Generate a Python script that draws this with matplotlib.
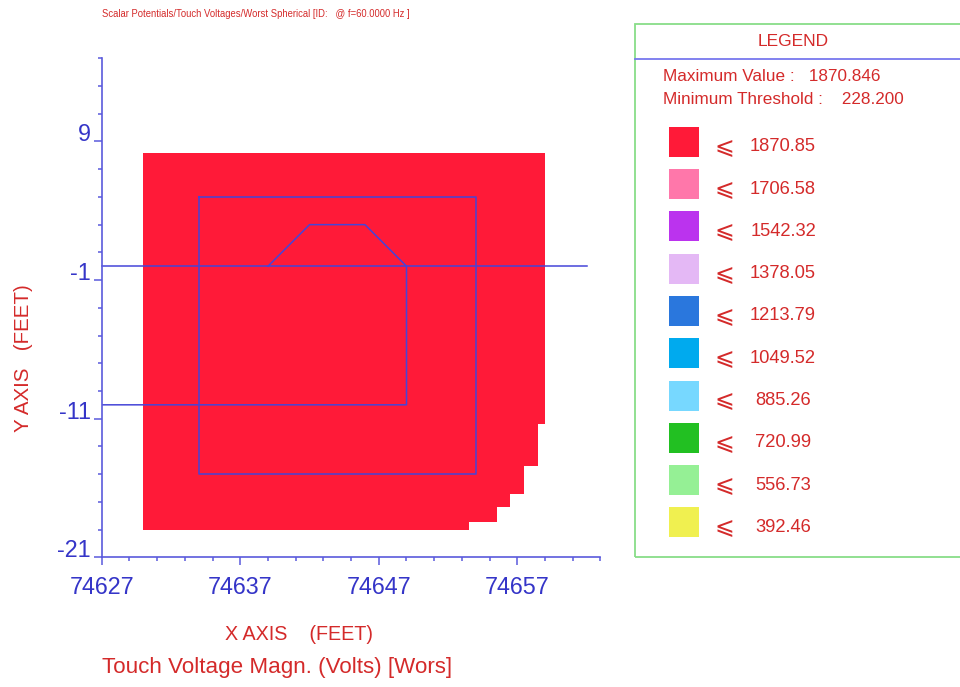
import matplotlib
matplotlib.use("Agg")
import matplotlib.pyplot as plt
from matplotlib.patches import Rectangle
from matplotlib.lines import Line2D

plt.rcParams['font.family'] = ['Liberation Sans', 'DejaVu Sans']

# ---- data ----
title_text = "Scalar Potentials/Touch Voltages/Worst Spherical [ID:   @ f=60.0000 Hz ]"
x_major = [74627, 74637, 74647, 74657]
y_major = [9, -1, -11, -21]
x_range = (74627, 74663)
y_range = (-21, 15)

field_x = [74630, 74659, 74659, 74658.5, 74658.5, 74657.5, 74657.5, 74656.5,
           74656.5, 74655.5, 74655.5, 74653.5, 74653.5, 74630]
field_y = [8.2, 8.2, -11.4, -11.4, -14.4, -14.4, -16.4, -16.4,
           -17.4, -17.4, -18.45, -18.45, -19, -19]

grid_x = [74634, 74654, 74654, 74634, 74634]
grid_y = [5, 5, -15, -15, 5]

bld_x = [74627, 74649, 74649, 74646, 74642, 74639]
bld_y = [-10, -10, 0, 3, 3, 0]

line_x = [74627, 74662]
line_y = [0, 0]

max_value = "1870.846"
min_threshold = "228.200"
levels = ["1870.85", "1706.58", "1542.32", "1378.05", "1213.79",
          "1049.52", "885.26", "720.99", "556.73", "392.46"]
level_colors = ["#ff1a38", "#ff77aa", "#bb33ee", "#e4b8f5", "#2a77dd",
                "#00aaee", "#77d8ff", "#22c022", "#95f095", "#f0f050"]

# ---- figure ----
W, H = 960, 687
fig = plt.figure(figsize=(W / 100, H / 100), dpi=100)

def fx(px):
    return px / W

def fy(py):
    return 1 - py / H

ax_l, ax_r, ax_t, ax_b = 101.8, 600.4, 58.3, 557.3
ax = fig.add_axes([fx(ax_l), fy(ax_b), (ax_r - ax_l) / W, (ax_b - ax_t) / H])
ax.set_xlim(*x_range)
ax.set_ylim(*y_range)

axis_blue = "#5a5adc"
text_blue = "#3535c8"
red_text = "#d42a2a"
line_blue = "#4545d8"

ax.fill(field_x, field_y, color=level_colors[0], lw=0, zorder=1)
ax.plot(grid_x, grid_y, color=line_blue, lw=1.1, zorder=2)
ax.plot(bld_x, bld_y, color=line_blue, lw=1.1, zorder=2)
ax.plot(line_x, line_y, color=line_blue, lw=1.1, zorder=2, clip_on=False)

for s in ['top', 'right']:
    ax.spines[s].set_visible(False)
for s in ['left', 'bottom']:
    ax.spines[s].set_color(axis_blue)
    ax.spines[s].set_linewidth(1.2)

ax.set_xticks(x_major)
ax.set_xticklabels([str(v) for v in x_major])
ax.set_xticks(list(range(x_range[0], x_range[1] + 1, 2)), minor=True)
ax.set_yticks(y_major)
ax.set_yticklabels([str(v) for v in y_major])
ax.set_yticks(list(range(y_range[0], y_range[1] + 1, 2)), minor=True)

ax.tick_params(axis='both', which='major', length=5.8, width=1.1, color=axis_blue,
               labelcolor=text_blue, labelsize=16.8)
ax.tick_params(axis='both', which='minor', length=3.2, width=1.1, color=axis_blue)
ax.tick_params(axis='x', which='major', pad=8)
ax.tick_params(axis='y', which='major', pad=2.3)
for lab in ax.get_yticklabels():
    lab.set_verticalalignment('baseline')

# ---- texts ----
fig.text(fx(101.7), fy(14), title_text, color=red_text, fontsize=6.85,
         ha='left', va='center')
fig.text(fx(299), fy(634), "X AXIS    (FEET)", color=red_text, fontsize=14.2,
         ha='center', va='center')
fig.text(fx(24), fy(358), "Y AXIS   (FEET)", color=red_text, fontsize=14.8,
         ha='center', va='center', rotation=90)
fig.text(fx(277.5), fy(668), "Touch Voltage Magn. (Volts) [Wors]", color=red_text,
         fontsize=16.1, ha='center', va='center')

# ---- legend panel ----
leg_l, leg_t, leg_b = 635, 24, 557.3
fig.add_artist(Rectangle((fx(leg_l), fy(leg_b)), fx(W + 20 - leg_l), (leg_b - leg_t) / H,
                         transform=fig.transFigure, fill=False,
                         edgecolor="#88dd88", lw=1.3))
fig.add_artist(Line2D([fx(leg_l), 1.0], [fy(59), fy(59)], transform=fig.transFigure,
                      color="#7777ee", lw=1.3))
fig.text(fx(793), fy(42), "LEGEND", color=red_text, fontsize=12.5,
         ha='center', va='center')
fig.text(fx(663), fy(76.5), "Maximum Value :   " + max_value, color=red_text,
         fontsize=12.3, ha='left', va='center')
fig.text(fx(663), fy(99), "Minimum Threshold :    " + min_threshold, color=red_text,
         fontsize=12.3, ha='left', va='center')

sw_l, sw_top0, sw_size, pitch = 669.3, 126.7, 30, 42.3
for k, (lev, col) in enumerate(zip(levels, level_colors)):
    top = sw_top0 + k * pitch
    fig.add_artist(Rectangle((fx(sw_l), fy(top + sw_size)), sw_size / W, sw_size / H,
                             transform=fig.transFigure, facecolor=col,
                             edgecolor='none'))
    cy = top + sw_size / 2 + 5
    fig.text(fx(724.5), fy(cy), "\u2a7d", color=red_text, fontsize=17,
             ha='center', va='center', family=['DejaVu Sans'])
    fig.text(fx(783), fy(cy), lev, color=red_text, fontsize=13.2,
             ha='center', va='center')

fig.savefig("out.png", dpi=100)
